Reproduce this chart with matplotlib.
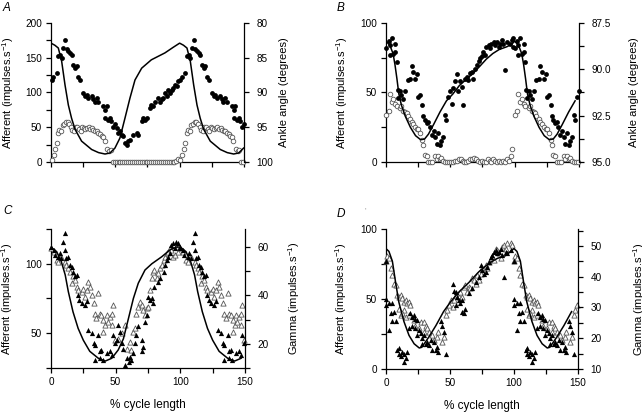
import numpy as np
import matplotlib.pyplot as plt
from matplotlib.ticker import MultipleLocator, FormatStrFormatter

# font settings (Arial-like)
plt.rcParams['font.family'] = 'Liberation Sans'
plt.rcParams['font.size'] = 7.2
plt.rcParams['axes.labelsize'] = 8
plt.rcParams['mathtext.fontset'] = 'custom'
plt.rcParams['mathtext.rm'] = 'Liberation Sans'
plt.rcParams['mathtext.it'] = 'Liberation Sans:italic'

# ---- panel A: afferent (filled / open circles), ankle angle line ----
a_fill_x = [0.5, 1.8, 4.4, 5.7, 7, 8.3, 9.6, 10.9, 12.2, 13.5, 14.8, 16, 17.4, 18.7, 20, 21, 22.5, 25, 26.4, 27.7,
            29, 31.6, 33, 34, 35.5, 36.8, 40.7, 42, 43.3, 42, 44.6, 45.9, 47, 48.4, 49.7, 51, 52.3, 53.6, 55, 56,
            57.5, 58.8, 60, 61.4, 64, 66.6, 68, 70.5, 71.8, 73, 74.4, 77, 78, 79.5, 80.8, 83.4, 84.7, 86, 87.3, 88.6,
            90, 91, 92.5, 93.8, 95, 96.4, 97.7, 99]
a_fill_y = [118, 123, 128, 152, 154, 150, 164, 176, 162, 159, 157, 154, 140, 135, 138, 123, 118, 99, 94.5, 97,
            92, 94.5, 90, 87, 92, 87, 80, 75, 80, 63, 61, 63, 58.5, 51, 54, 49, 42, 44, 39, 37,
            27, 25, 30, 32, 39, 42, 39, 58.5, 63, 61, 63, 78, 82.5, 80, 87, 92, 87, 90, 92, 99,
            94.5, 104, 99, 104, 106.5, 111, 109, 116]
a_open_x = [0.5, 2, 3.2, 4.4, 5.4, 6.6, 7.8, 9, 10.3, 11.6, 13, 14.3, 15.5, 16.7, 18, 19.2, 20.5, 21.8, 23, 24.3,
            25.5, 26.8, 28, 29.3, 30.5, 31.8, 33, 34.3, 35.5, 36.8, 38, 39.3, 40.5, 41.8, 43.5, 45, 46.5,
            48, 49.5, 51, 52.5, 54, 55.5, 57, 58.5, 60, 61.5, 63, 64.5, 66, 67.5, 69, 70.5, 72, 73.5, 75, 76.5,
            78, 79.5, 81, 82.5, 84, 85.5, 87, 88.5, 90, 91.5, 93, 94.5, 96, 97, 98.5]
a_open_y = [3, 10, 18, 27, 42, 46, 44, 53, 55, 57, 58, 54, 50, 46, 44, 50, 51, 48, 45, 50,
            49, 47, 49, 50, 47, 49, 46, 44, 45, 42, 40, 38, 36, 30, 18, 16, 17,
            0, 0, 0, 0, 0, 0, 0, 0, 0, 0, 0, 0, 0, 0, 0, 0, 0, 0, 0, 0,
            0, 0, 0, 0, 0, 0, 0, 0, 0, 0, 0, 0, 0, 2, 5]
a_line_x = [0, 3, 5.7, 8.3, 10.9, 13.5, 16, 18.7, 23.8, 31.6, 37, 42, 45.9, 49.7, 53.6, 57.5, 61.4, 65.3, 70.5,
            78, 88.6, 95, 100]
a_line_deg = [82.9, 83.2, 83.6, 85.5, 88.9, 91.8, 93.7, 95.3, 97.0, 98.2, 98.65, 98.85, 98.7, 98.0, 96.55, 93.7,
              90.8, 88.2, 86.5, 85.3, 84.3, 83.5, 82.9]

# ---- panel B ----
b_fill_x = [0, 2, 3, 4.4, 3, 5.7, 7, 7, 8.3, 9, 9.6, 11, 12, 13.5, 15, 17, 19, 20, 21, 22.6,
            24, 25, 26.5, 28, 29, 30, 31.7, 33, 34, 35.5, 37, 38, 39.5, 40.7, 42, 43, 44.6, 46, 47, 48.5,
            50, 51, 52, 53.7, 55, 56, 57.6, 59, 60, 61.5, 63, 64, 65.4, 66.7, 68, 69, 70.6, 72, 73, 74.5,
            75.8, 77, 78, 79.7, 81, 82, 83.6, 85, 86, 87.5, 88.7, 90, 91, 92.6, 94, 96.5, 98, 99, 99]
b_fill_y = [82, 87, 84, 89, 77, 78, 85, 79, 72, 52, 46, 51, 48, 45, 51, 59, 60, 69, 65, 60,
            63, 47, 48, 41, 33, 30, 28, 29, 25, 19.5, 22, 18, 13, 21, 12, 15, 18, 34, 30, 47,
            51, 42, 53, 58, 63, 51, 58, 54, 41, 60, 61, 59, 64, 65, 60, 67, 70, 73, 75, 76,
            79, 77, 83, 84, 82, 85, 86.6, 84, 86.6, 83, 85, 88, 85, 66, 86.6, 85, 88, 89, 83]
b_open_x = [0, 2, 3, 4.4, 5.7, 7, 8.3, 11, 12, 13.5, 15, 16, 17, 19, 20, 21, 22.6, 24, 25, 26.5,
            28, 29, 30, 31.7, 33, 34.5, 36, 38, 39.5, 40.7, 42, 43, 44.5, 46, 47.5, 49, 50.5, 52, 53.5, 55,
            56.5, 58, 59.5, 61, 62.5, 64, 65.5, 67, 68.5, 70, 71.5, 73, 74.5, 76, 77.5, 79, 80.5, 82, 83.5, 85,
            86.5, 88, 89.5, 91, 92.5, 94, 95.5, 97, 98.3]
b_open_y = [34, 37, 49, 43, 45, 42, 40, 39, 40, 37, 36, 35, 33, 31, 29, 27, 25, 24, 24, 21,
            16, 12, 5, 4, 0, 0, 0, 4, 2, 4, 2, 3, 1, 0, 0, 0, 0, 0, 1, 1,
            2, 2, 1, 0, 0, 1, 2, 2, 3, 2, 1, 0, 1, 0, 0, 2, 1, 0, 2, 1,
            0, 1, 0, 1, 0, 2, 1, 4, 9]
b_line_x = [0, 3, 5.5, 7, 8.5, 10, 12, 15, 19, 23, 27, 30, 33, 37, 42, 47, 52, 57, 63, 68, 73, 78, 83, 88,
            94, 98, 100]
b_line_deg = [88.48, 88.7, 89.15, 89.75, 90.5, 91.33, 91.93, 92.53, 93.13, 93.58, 93.8, 93.76, 93.5, 92.98,
              92.3, 91.7, 91.33, 90.88, 90.5, 90.2, 89.83, 89.45, 89.15, 88.93, 88.78, 88.63, 88.48]

# ---- panel C: filled / open triangles ----
c_fill_x = [0, 2, 3, 5.7, 7, 8, 9.5, 11, 11, 12, 13.4, 14.7, 16, 17, 18.5, 20, 21, 22, 24, 26,
            27.6, 29, 31.4, 33, 34, 34, 36.6, 38, 38, 39, 40, 43, 45.6, 47, 48, 49.5, 50.8, 52, 53, 54.6,
            56, 57, 58.5, 60, 61, 62, 63.7, 65, 66, 67.5, 70, 70, 71, 72.7, 74, 75, 76.5, 78, 79, 80,
            83, 84, 87, 88, 89.4, 90.7, 92, 93, 94.6, 96, 97, 98.5, 99.7]
c_fill_y = [112, 110, 106, 105, 107.5, 104, 116, 122, 110, 104, 105, 99, 98, 94, 91, 92, 77.5, 74, 71.5, 70,
            73, 52, 50, 43, 41.5, 31, 49, 37, 32, 38, 31, 35.5, 37, 34, 49, 43, 45, 56, 51, 43,
            39, 27, 32, 29.5, 33, 31, 35.5, 43, 49, 55, 37, 45, 40, 58, 63, 76, 74, 75, 71.5, 83.5,
            87, 89.5, 94, 99, 103, 105, 107.5, 113.5, 115, 111, 116, 115, 111]
c_open_x = [0, 2, 4.4, 5.7, 8, 11, 12, 13.4, 14.7, 16, 17, 18.5, 20, 21, 23.7, 25, 26, 27.6, 29, 30,
            31.4, 33, 34, 35, 36.6, 38, 39, 40.5, 40.5, 42, 43, 44, 45.6, 47, 47, 48, 49.5, 52, 54.6, 57,
            58.5, 61, 62, 63.7, 65, 66, 67.5, 69, 70, 71, 72.7, 74, 75, 76.5, 78, 79, 80, 82, 83, 84,
            85.6, 87, 88, 89.4, 90.7, 92, 93, 94.6, 96, 97, 98.5]
c_open_y = [111, 108.7, 103, 101.5, 105, 101.5, 99, 97, 94, 86, 91, 88, 83.5, 81, 80, 82, 76, 81, 87, 83.5,
            77.5, 71.5, 64, 61, 78.7, 64, 63, 59.5, 51, 56, 63, 58, 62, 64, 56, 70, 45, 46, 50, 56,
            39, 44, 38, 51, 53.5, 64, 69, 72.7, 70, 66.7, 63, 68, 69, 81, 89.5, 94, 95.5, 89.5, 93, 96.7,
            99, 103, 105, 107.5, 108.7, 111, 110, 105, 106, 112, 108.7]
c_line_x = [0, 4.4, 8, 11, 13.4, 17, 21, 25, 30, 36.6, 42, 47, 52, 56, 60, 63.7, 67.5, 72.7, 78, 85.6, 92, 97, 100]
c_line_y = [112, 108.7, 101.5, 92, 80, 65.5, 53.5, 45, 37, 32, 30, 32, 38, 46, 61, 75, 86, 95.5, 100, 105, 110,
            112, 112]

# ---- panel D ----
d_fill_x = [0, 0, 2.3, 5, 0, 6, 3.6, 2.3, 5, 7.5, 9, 10, 11.5, 12.8, 14, 15.4, 16.7, 10, 14, 19,
            20.6, 22, 23, 24.5, 20.6, 18, 23, 26, 27, 24.5, 28.4, 29.7, 28.4, 31, 32, 33.6, 36, 35, 37.5, 39,
            40, 41, 42.7, 44, 45, 46.6, 52, 53, 54.4, 55.7, 57, 58, 54.4, 59.6, 61, 62, 59.6, 65, 67.4, 70,
            72.6, 74, 75, 76.6, 77.9, 79, 80.5, 81.8, 83, 84.4, 85.7, 87, 88.3, 89.6, 91, 92, 93.5, 94.8, 97.4]
d_fill_y = [77, 46, 47, 47, 50, 41, 40, 28, 34, 34, 13.5, 11, 9, 12.4, 11, 7.6, 12.4, 15, 5, 40,
            37, 38.6, 36, 35, 31, 29, 29, 28, 25.5, 24, 22, 24, 18, 18, 19.5, 17, 13.5, 20.7, 19.5, 13.5,
            16, 12.4, 34, 31, 26.7, 11, 61, 56, 55, 51.7, 49, 47, 46, 41, 40, 43, 49, 54, 57.6, 62,
            66, 74, 70.7, 68, 69.5, 73, 76.7, 80, 81.4, 83.8, 85, 82.6, 83.8, 86, 81.4, 66, 83.8, 82.6, 85]
d_open_x = [0, 1, 2.3, 3.6, 5, 6, 7.5, 9, 10, 11.5, 12.8, 14, 15.4, 16.7, 18, 19, 14, 10, 11.5, 12.8,
            15.4, 18, 22, 23, 26, 27, 29.7, 31, 32, 33.6, 29.7, 36, 37.5, 40, 41, 44, 45, 46.6, 48, 49,
            50.5, 52, 53, 54.4, 57, 58, 59.6, 61, 62, 63.5, 65, 66, 67.4, 68.8, 70, 71.4, 72.6, 74, 75, 77.9,
            79, 80.5, 83, 84.4, 85.7, 87, 88.3, 89.6, 91, 92, 93.5, 94.8, 97.4, 98.7]
d_open_y = [77, 81, 79, 72, 67, 61, 60, 53, 51.7, 53, 50.5, 48, 49, 47, 48, 45.7, 42, 43, 38.6, 40,
            37.4, 38.6, 35, 31, 29, 33.8, 33.8, 31, 29, 26.7, 26.7, 24, 20.7, 23, 26.7, 19.5, 23, 38.6, 42, 45.7,
            49, 44.5, 49, 53, 51.7, 55, 51.7, 58.8, 60, 55, 58.8, 57.6, 64.8, 63.6, 61, 67, 63.6, 68, 72, 74,
            72, 76.7, 80, 78, 86, 85, 82.6, 79, 87, 88.6, 86, 89.8, 89.8, 88.6]
d_line_x = [0, 2.3, 5, 7.5, 10, 14, 18, 22, 26, 28, 33.6, 39, 45, 50.5, 57, 65, 72.6, 80.5, 87, 93.5, 98.7, 100]
d_line_y = [86, 84, 77, 62, 48, 34, 24, 18, 15, 15.5, 23, 31, 41, 48, 55, 62, 69.5, 75.5, 79, 81, 85, 86]

afferent_label = r'Afferent (impulses.s$^{-1}$)'
gamma_label = r'Gamma (impulses.s$^{-1}$)'
angle_label = 'Ankle angle (degrees)'


def wrap(x, y):
    # the first half of the cycle is shown again after 100 %
    x = np.asarray(x, float)
    y = np.asarray(y, float)
    m = x <= 50
    return np.concatenate([x, x[m] + 100]), np.concatenate([y, y[m]])


def setup(ax, ax2):
    ax.spines['top'].set_visible(False)
    ax.spines['right'].set_visible(False)
    for s in ['top', 'left', 'bottom']:
        ax2.spines[s].set_visible(False)
    for a in (ax, ax2):
        for s in a.spines.values():
            s.set_linewidth(0.9)
        a.tick_params(which='both', direction='out', length=3.5, width=0.9, pad=3)
    ax2.tick_params(which='both', pad=5.5)
    ax.set_xlim(0, 150)
    ax.xaxis.set_major_locator(MultipleLocator(50))
    ax.xaxis.set_minor_locator(MultipleLocator(25))


fig = plt.figure(figsize=(6.42, 4.12), dpi=100)

pos = {'A': [0.0794, 0.6068, 0.3006, 0.3374],
       'B': [0.6012, 0.6068, 0.3006, 0.3374],
       'C': [0.0794, 0.1068, 0.3022, 0.3374],
       'D': [0.6012, 0.1044, 0.2991, 0.3398]}

open_kw = dict(facecolor='white', edgecolor='#555555', linewidths=0.6, clip_on=False, zorder=3)
fill_kw = dict(color='black', linewidths=0, clip_on=False, zorder=4)

# ---------- A ----------
ax = fig.add_axes(pos['A'])
ax2 = ax.twinx()
setup(ax, ax2)
x, y = wrap(a_open_x, a_open_y)
ax.scatter(x, y, s=11, marker='o', **open_kw)
x, y = wrap(a_fill_x, a_fill_y)
ax.scatter(x, y, s=12, marker='o', **fill_kw)
x, y = wrap(a_line_x, a_line_deg)
ax2.plot(x, y, color='black', lw=1.1)
ax.set_ylim(0, 200)
ax.yaxis.set_major_locator(MultipleLocator(50))
ax.yaxis.set_minor_locator(MultipleLocator(25))
ax2.set_ylim(100, 80)
ax2.yaxis.set_major_locator(MultipleLocator(5))
ax.set_xticklabels([])
ax.set_xticklabels([], minor=True)
ax.set_ylabel(afferent_label)
ax.yaxis.set_label_coords(-0.181, 0.5)
ax2.set_ylabel(angle_label)
ax2.yaxis.set_label_coords(1.181, 0.5)

# ---------- B ----------
ax = fig.add_axes(pos['B'])
ax2 = ax.twinx()
setup(ax, ax2)
x, y = wrap(b_open_x, b_open_y)
ax.scatter(x, y, s=11, marker='o', **open_kw)
x, y = wrap(b_fill_x, b_fill_y)
ax.scatter(x, y, s=12, marker='o', **fill_kw)
x, y = wrap(b_line_x, b_line_deg)
ax2.plot(x, y, color='black', lw=1.1)
ax.set_ylim(0, 100)
ax.yaxis.set_major_locator(MultipleLocator(50))
ax.yaxis.set_minor_locator(MultipleLocator(25))
ax2.set_ylim(95, 87.5)
ax2.yaxis.set_major_locator(MultipleLocator(2.5))
ax2.yaxis.set_minor_locator(MultipleLocator(1.25))
ax2.yaxis.set_major_formatter(FormatStrFormatter('%.1f'))
ax.set_xticklabels([])
ax.set_ylabel(afferent_label)
ax.yaxis.set_label_coords(-0.187, 0.5)
ax2.set_ylabel(angle_label)
ax2.yaxis.set_label_coords(1.259, 0.5)

# ---------- C ----------
ax = fig.add_axes(pos['C'])
ax2 = ax.twinx()
setup(ax, ax2)
x, y = wrap(c_open_x, c_open_y)
ax.scatter(x, y, s=14, marker='^', **open_kw)
x, y = wrap(c_fill_x, c_fill_y)
ax.scatter(x, y, s=14, marker='^', **fill_kw)
x, y = wrap(c_line_x, c_line_y)
ax.plot(x, y, color='black', lw=1.1, zorder=5)
ax.set_ylim(25, 125)
ax.yaxis.set_major_locator(MultipleLocator(50))
ax.yaxis.set_minor_locator(MultipleLocator(25))
ax2.set_ylim(10, 67.5)
ax2.yaxis.set_major_locator(MultipleLocator(20))
ax2.yaxis.set_minor_locator(MultipleLocator(10))
ax.set_xlabel('% cycle length', fontsize=8.5)
ax.xaxis.set_label_coords(0.5, -0.225)
ax.set_ylabel(afferent_label)
ax.yaxis.set_label_coords(-0.186, 0.5)
ax2.set_ylabel(gamma_label)
ax2.yaxis.set_label_coords(1.211, 0.5)

# ---------- D ----------
ax = fig.add_axes(pos['D'])
ax2 = ax.twinx()
setup(ax, ax2)
x, y = wrap(d_open_x, d_open_y)
ax.scatter(x, y, s=14, marker='^', **open_kw)
x, y = wrap(d_fill_x, d_fill_y)
ax.scatter(x, y, s=14, marker='^', **fill_kw)
x, y = wrap(d_line_x, d_line_y)
ax.plot(x, y, color='black', lw=1.1, zorder=5)
ax.set_ylim(0, 100)
ax.yaxis.set_major_locator(MultipleLocator(50))
ax.yaxis.set_minor_locator(MultipleLocator(25))
ax2.set_ylim(10, 55.5)
ax2.yaxis.set_major_locator(MultipleLocator(10))
ax2.yaxis.set_minor_locator(MultipleLocator(5))
ax.set_xlabel('% cycle length', fontsize=8.5)
ax.xaxis.set_label_coords(0.5, -0.225)
ax.set_ylabel(afferent_label)
ax.yaxis.set_label_coords(-0.19, 0.5)
ax2.set_ylabel(gamma_label)
ax2.yaxis.set_label_coords(1.278, 0.5)

# panel letters
for lab, (px, py) in {'A': (3, 2), 'B': (337, 2), 'C': (3, 205), 'D': (337, 208)}.items():
    fig.text(px / 642, 1 - py / 412, lab, fontsize=8.5, style='italic', ha='left', va='top')
fig.text(365 / 642, 1 - 207 / 412, "''", fontsize=5, color='#bbbbbb', ha='left', va='top')

fig.savefig('out.png', dpi=100)
